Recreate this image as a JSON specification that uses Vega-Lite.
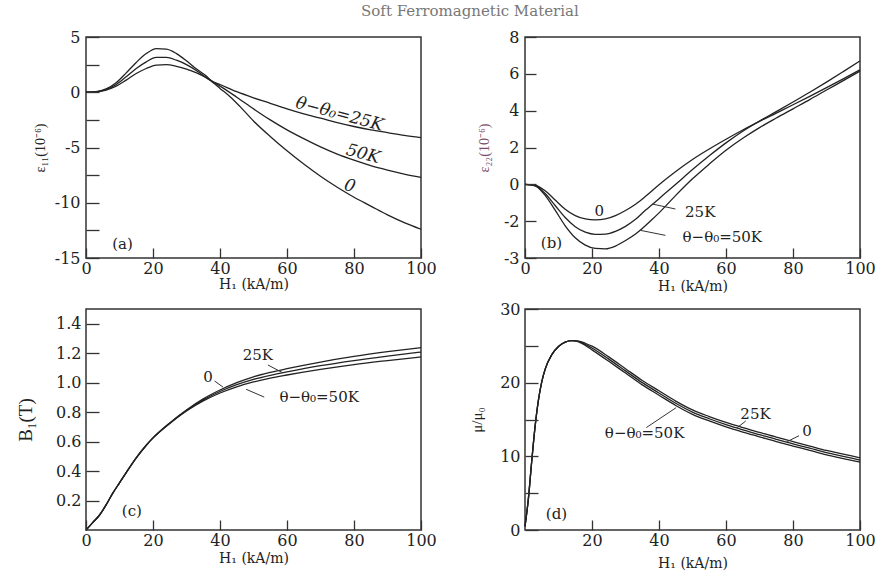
{
  "$schema": "https://vega.github.io/schema/vega-lite/v6.json",
  "background": "white",
  "padding": {"left": 15, "top": 4, "right": 5, "bottom": 5},
  "title": {"text": "Soft Ferromagnetic Material", "font": "DejaVu Serif", "fontSize": 15, "fontWeight": "normal", "color": "#777", "offset": 9, "anchor": "middle", "dx": 24},
  "datasets": {
    "a": [
      {"H":0,"v":0,"s":"0"},{"H":3,"v":0.05,"s":"0"},{"H":6,"v":0.3,"s":"0"},{"H":9,"v":0.85,"s":"0"},{"H":12,"v":1.75,"s":"0"},{"H":15,"v":2.7,"s":"0"},{"H":18,"v":3.5,"s":"0"},{"H":21,"v":3.95,"s":"0"},{"H":24,"v":3.9,"s":"0"},{"H":27,"v":3.5,"s":"0"},{"H":30,"v":2.85,"s":"0"},{"H":33,"v":2.1,"s":"0"},{"H":36,"v":1.45,"s":"0"},{"H":38,"v":0.85,"s":"0"},{"H":40,"v":0.35,"s":"0"},{"H":43,"v":-0.4,"s":"0"},{"H":46,"v":-1.3,"s":"0"},{"H":50,"v":-2.6,"s":"0"},{"H":55,"v":-4.0,"s":"0"},{"H":60,"v":-5.3,"s":"0"},{"H":65,"v":-6.5,"s":"0"},{"H":70,"v":-7.6,"s":"0"},{"H":75,"v":-8.6,"s":"0"},{"H":80,"v":-9.5,"s":"0"},{"H":85,"v":-10.3,"s":"0"},{"H":90,"v":-11.1,"s":"0"},{"H":95,"v":-11.8,"s":"0"},{"H":100,"v":-12.4,"s":"0"},
      {"H":0,"v":0,"s":"50K"},{"H":3,"v":0.04,"s":"50K"},{"H":6,"v":0.25,"s":"50K"},{"H":9,"v":0.7,"s":"50K"},{"H":12,"v":1.4,"s":"50K"},{"H":15,"v":2.15,"s":"50K"},{"H":18,"v":2.75,"s":"50K"},{"H":21,"v":3.15,"s":"50K"},{"H":24,"v":3.15,"s":"50K"},{"H":27,"v":2.9,"s":"50K"},{"H":30,"v":2.5,"s":"50K"},{"H":33,"v":1.95,"s":"50K"},{"H":36,"v":1.3,"s":"50K"},{"H":38,"v":0.9,"s":"50K"},{"H":40,"v":0.55,"s":"50K"},{"H":45,"v":-0.45,"s":"50K"},{"H":50,"v":-1.5,"s":"50K"},{"H":55,"v":-2.5,"s":"50K"},{"H":60,"v":-3.4,"s":"50K"},{"H":65,"v":-4.2,"s":"50K"},{"H":70,"v":-4.95,"s":"50K"},{"H":75,"v":-5.6,"s":"50K"},{"H":80,"v":-6.15,"s":"50K"},{"H":85,"v":-6.65,"s":"50K"},{"H":90,"v":-7.05,"s":"50K"},{"H":95,"v":-7.4,"s":"50K"},{"H":100,"v":-7.7,"s":"50K"},
      {"H":0,"v":0,"s":"25K"},{"H":3,"v":0.03,"s":"25K"},{"H":6,"v":0.2,"s":"25K"},{"H":9,"v":0.55,"s":"25K"},{"H":12,"v":1.1,"s":"25K"},{"H":15,"v":1.7,"s":"25K"},{"H":18,"v":2.15,"s":"25K"},{"H":21,"v":2.45,"s":"25K"},{"H":24,"v":2.5,"s":"25K"},{"H":27,"v":2.35,"s":"25K"},{"H":30,"v":2.1,"s":"25K"},{"H":33,"v":1.75,"s":"25K"},{"H":36,"v":1.3,"s":"25K"},{"H":38,"v":0.95,"s":"25K"},{"H":40,"v":0.7,"s":"25K"},{"H":45,"v":0.05,"s":"25K"},{"H":50,"v":-0.5,"s":"25K"},{"H":55,"v":-1.0,"s":"25K"},{"H":60,"v":-1.5,"s":"25K"},{"H":65,"v":-1.95,"s":"25K"},{"H":70,"v":-2.35,"s":"25K"},{"H":75,"v":-2.75,"s":"25K"},{"H":80,"v":-3.1,"s":"25K"},{"H":85,"v":-3.4,"s":"25K"},{"H":90,"v":-3.65,"s":"25K"},{"H":95,"v":-3.9,"s":"25K"},{"H":100,"v":-4.1,"s":"25K"}
    ],
    "aItal": [
      {"H":75.7,"v":-2.0,"t":"θ−θ₀=25K"},{"H":82.7,"v":-5.6,"t":"50K"},{"H":78.7,"v":-8.5,"t":"0"}
    ],
    "aLab": [{"H":10.9,"v":-13.7,"t":"(a)"}],
    "b": [
      {"H":0,"v":0,"s":"0"},{"H":3,"v":-0.05,"s":"0"},{"H":6,"v":-0.35,"s":"0"},{"H":9,"v":-0.85,"s":"0"},{"H":12,"v":-1.35,"s":"0"},{"H":15,"v":-1.7,"s":"0"},{"H":18,"v":-1.88,"s":"0"},{"H":21,"v":-1.93,"s":"0"},{"H":24,"v":-1.88,"s":"0"},{"H":27,"v":-1.7,"s":"0"},{"H":30,"v":-1.42,"s":"0"},{"H":33,"v":-1.08,"s":"0"},{"H":36,"v":-0.65,"s":"0"},{"H":40,"v":-0.02,"s":"0"},{"H":45,"v":0.7,"s":"0"},{"H":50,"v":1.35,"s":"0"},{"H":55,"v":1.92,"s":"0"},{"H":60,"v":2.45,"s":"0"},{"H":65,"v":2.95,"s":"0"},{"H":70,"v":3.42,"s":"0"},{"H":75,"v":3.87,"s":"0"},{"H":80,"v":4.32,"s":"0"},{"H":85,"v":4.78,"s":"0"},{"H":90,"v":5.25,"s":"0"},{"H":95,"v":5.73,"s":"0"},{"H":100,"v":6.22,"s":"0"},
      {"H":0,"v":0,"s":"25K"},{"H":3,"v":-0.07,"s":"25K"},{"H":6,"v":-0.5,"s":"25K"},{"H":9,"v":-1.15,"s":"25K"},{"H":12,"v":-1.8,"s":"25K"},{"H":15,"v":-2.3,"s":"25K"},{"H":18,"v":-2.6,"s":"25K"},{"H":21,"v":-2.72,"s":"25K"},{"H":24,"v":-2.7,"s":"25K"},{"H":27,"v":-2.55,"s":"25K"},{"H":30,"v":-2.28,"s":"25K"},{"H":33,"v":-1.9,"s":"25K"},{"H":36,"v":-1.4,"s":"25K"},{"H":38,"v":-1.1,"s":"25K"},{"H":40,"v":-0.78,"s":"25K"},{"H":45,"v":0.0,"s":"25K"},{"H":50,"v":0.8,"s":"25K"},{"H":55,"v":1.55,"s":"25K"},{"H":60,"v":2.25,"s":"25K"},{"H":65,"v":2.88,"s":"25K"},{"H":70,"v":3.44,"s":"25K"},{"H":75,"v":3.95,"s":"25K"},{"H":80,"v":4.47,"s":"25K"},{"H":85,"v":5.0,"s":"25K"},{"H":90,"v":5.55,"s":"25K"},{"H":95,"v":6.12,"s":"25K"},{"H":100,"v":6.7,"s":"25K"},
      {"H":0,"v":0,"s":"50K"},{"H":3,"v":-0.08,"s":"50K"},{"H":6,"v":-0.6,"s":"50K"},{"H":9,"v":-1.4,"s":"50K"},{"H":12,"v":-2.25,"s":"50K"},{"H":15,"v":-2.9,"s":"50K"},{"H":18,"v":-3.3,"s":"50K"},{"H":21,"v":-3.48,"s":"50K"},{"H":24,"v":-3.5,"s":"50K"},{"H":27,"v":-3.35,"s":"50K"},{"H":30,"v":-3.05,"s":"50K"},{"H":33,"v":-2.7,"s":"50K"},{"H":35,"v":-2.4,"s":"50K"},{"H":38,"v":-1.9,"s":"50K"},{"H":40,"v":-1.55,"s":"50K"},{"H":45,"v":-0.6,"s":"50K"},{"H":50,"v":0.3,"s":"50K"},{"H":55,"v":1.1,"s":"50K"},{"H":60,"v":1.85,"s":"50K"},{"H":65,"v":2.5,"s":"50K"},{"H":70,"v":3.08,"s":"50K"},{"H":75,"v":3.6,"s":"50K"},{"H":80,"v":4.1,"s":"50K"},{"H":85,"v":4.6,"s":"50K"},{"H":90,"v":5.12,"s":"50K"},{"H":95,"v":5.63,"s":"50K"},{"H":100,"v":6.15,"s":"50K"}
    ],
    "bTxt": [
      {"H":22.2,"v":-1.45,"t":"0"},{"H":52.3,"v":-1.52,"t":"25K"},{"H":58.9,"v":-2.85,"t":"θ−θ₀=50K"},{"H":7.9,"v":-3.2,"t":"(b)"}
    ],
    "bRule": [
      {"H":38,"v":-1.07,"H2":44.9,"v2":-1.34},{"H":34.5,"v":-2.5,"H2":41.9,"v2":-2.77}
    ],
    "c": [
      {"H":0,"v":0,"s":"25K"},{"H":2,"v":0.05,"s":"25K"},{"H":4,"v":0.1,"s":"25K"},{"H":6,"v":0.17,"s":"25K"},{"H":8,"v":0.25,"s":"25K"},{"H":10,"v":0.32,"s":"25K"},{"H":12,"v":0.39,"s":"25K"},{"H":15,"v":0.49,"s":"25K"},{"H":18,"v":0.575,"s":"25K"},{"H":20,"v":0.625,"s":"25K"},{"H":25,"v":0.727,"s":"25K"},{"H":30,"v":0.815,"s":"25K"},{"H":35,"v":0.89,"s":"25K"},{"H":40,"v":0.95,"s":"25K"},{"H":45,"v":1.0,"s":"25K"},{"H":50,"v":1.04,"s":"25K"},{"H":55,"v":1.07,"s":"25K"},{"H":60,"v":1.095,"s":"25K"},{"H":70,"v":1.14,"s":"25K"},{"H":80,"v":1.178,"s":"25K"},{"H":90,"v":1.21,"s":"25K"},{"H":100,"v":1.238,"s":"25K"},
      {"H":0,"v":0,"s":"0"},{"H":2,"v":0.05,"s":"0"},{"H":4,"v":0.1,"s":"0"},{"H":6,"v":0.17,"s":"0"},{"H":8,"v":0.25,"s":"0"},{"H":10,"v":0.32,"s":"0"},{"H":12,"v":0.39,"s":"0"},{"H":15,"v":0.49,"s":"0"},{"H":18,"v":0.575,"s":"0"},{"H":20,"v":0.625,"s":"0"},{"H":25,"v":0.725,"s":"0"},{"H":30,"v":0.812,"s":"0"},{"H":35,"v":0.883,"s":"0"},{"H":40,"v":0.94,"s":"0"},{"H":45,"v":0.986,"s":"0"},{"H":50,"v":1.022,"s":"0"},{"H":55,"v":1.05,"s":"0"},{"H":60,"v":1.073,"s":"0"},{"H":70,"v":1.115,"s":"0"},{"H":80,"v":1.15,"s":"0"},{"H":90,"v":1.18,"s":"0"},{"H":100,"v":1.208,"s":"0"},
      {"H":0,"v":0,"s":"50K"},{"H":2,"v":0.05,"s":"50K"},{"H":4,"v":0.1,"s":"50K"},{"H":6,"v":0.17,"s":"50K"},{"H":8,"v":0.25,"s":"50K"},{"H":10,"v":0.32,"s":"50K"},{"H":12,"v":0.39,"s":"50K"},{"H":15,"v":0.49,"s":"50K"},{"H":18,"v":0.575,"s":"50K"},{"H":20,"v":0.625,"s":"50K"},{"H":25,"v":0.723,"s":"50K"},{"H":30,"v":0.808,"s":"50K"},{"H":35,"v":0.876,"s":"50K"},{"H":40,"v":0.93,"s":"50K"},{"H":45,"v":0.972,"s":"50K"},{"H":50,"v":1.005,"s":"50K"},{"H":55,"v":1.031,"s":"50K"},{"H":60,"v":1.052,"s":"50K"},{"H":70,"v":1.09,"s":"50K"},{"H":80,"v":1.123,"s":"50K"},{"H":90,"v":1.15,"s":"50K"},{"H":100,"v":1.175,"s":"50K"}
    ],
    "cTxt": [
      {"H":51.3,"v":1.19,"t":"25K"},{"H":36.4,"v":1.04,"t":"0"},{"H":69.6,"v":0.905,"t":"θ−θ₀=50K"},{"H":13.7,"v":0.13,"t":"(c)"}
    ],
    "cRule": [
      {"H":54.3,"v":1.12,"H2":58.5,"v2":1.07},{"H":38.4,"v":1.011,"H2":40.9,"v2":0.97},{"H":53.2,"v":0.902,"H2":47.8,"v2":0.955}
    ],
    "d": [
      {"H":0,"v":0.5,"s":"25K"},{"H":1,"v":4.2,"s":"25K"},{"H":2,"v":9.3,"s":"25K"},{"H":3,"v":14,"s":"25K"},{"H":4,"v":17.6,"s":"25K"},{"H":5,"v":20.1,"s":"25K"},{"H":6,"v":21.8,"s":"25K"},{"H":8,"v":23.8,"s":"25K"},{"H":10,"v":24.9,"s":"25K"},{"H":12,"v":25.5,"s":"25K"},{"H":14,"v":25.7,"s":"25K"},{"H":16,"v":25.65,"s":"25K"},{"H":18,"v":25.35,"s":"25K"},{"H":20,"v":24.95,"s":"25K"},{"H":25,"v":23.5,"s":"25K"},{"H":30,"v":21.9,"s":"25K"},{"H":35,"v":20.3,"s":"25K"},{"H":40,"v":18.9,"s":"25K"},{"H":45,"v":17.5,"s":"25K"},{"H":50,"v":16.3,"s":"25K"},{"H":55,"v":15.4,"s":"25K"},{"H":60,"v":14.6,"s":"25K"},{"H":65,"v":13.9,"s":"25K"},{"H":70,"v":13.25,"s":"25K"},{"H":75,"v":12.6,"s":"25K"},{"H":80,"v":12.0,"s":"25K"},{"H":85,"v":11.4,"s":"25K"},{"H":90,"v":10.8,"s":"25K"},{"H":95,"v":10.3,"s":"25K"},{"H":100,"v":9.8,"s":"25K"},
      {"H":0,"v":0.5,"s":"0"},{"H":1,"v":4.2,"s":"0"},{"H":2,"v":9.3,"s":"0"},{"H":3,"v":14,"s":"0"},{"H":4,"v":17.6,"s":"0"},{"H":5,"v":20.1,"s":"0"},{"H":6,"v":21.8,"s":"0"},{"H":8,"v":23.8,"s":"0"},{"H":10,"v":24.9,"s":"0"},{"H":12,"v":25.5,"s":"0"},{"H":14,"v":25.7,"s":"0"},{"H":16,"v":25.6,"s":"0"},{"H":18,"v":25.2,"s":"0"},{"H":20,"v":24.7,"s":"0"},{"H":25,"v":23.2,"s":"0"},{"H":30,"v":21.6,"s":"0"},{"H":35,"v":20.0,"s":"0"},{"H":40,"v":18.6,"s":"0"},{"H":45,"v":17.2,"s":"0"},{"H":50,"v":16.0,"s":"0"},{"H":55,"v":15.1,"s":"0"},{"H":60,"v":14.3,"s":"0"},{"H":65,"v":13.6,"s":"0"},{"H":70,"v":12.95,"s":"0"},{"H":75,"v":12.3,"s":"0"},{"H":80,"v":11.7,"s":"0"},{"H":85,"v":11.1,"s":"0"},{"H":90,"v":10.5,"s":"0"},{"H":95,"v":10.0,"s":"0"},{"H":100,"v":9.5,"s":"0"},
      {"H":0,"v":0.5,"s":"50K"},{"H":1,"v":4.2,"s":"50K"},{"H":2,"v":9.3,"s":"50K"},{"H":3,"v":14,"s":"50K"},{"H":4,"v":17.6,"s":"50K"},{"H":5,"v":20.1,"s":"50K"},{"H":6,"v":21.8,"s":"50K"},{"H":8,"v":23.8,"s":"50K"},{"H":10,"v":24.9,"s":"50K"},{"H":12,"v":25.5,"s":"50K"},{"H":14,"v":25.7,"s":"50K"},{"H":16,"v":25.55,"s":"50K"},{"H":18,"v":25.05,"s":"50K"},{"H":20,"v":24.45,"s":"50K"},{"H":25,"v":22.9,"s":"50K"},{"H":30,"v":21.3,"s":"50K"},{"H":35,"v":19.7,"s":"50K"},{"H":40,"v":18.3,"s":"50K"},{"H":45,"v":16.9,"s":"50K"},{"H":50,"v":15.7,"s":"50K"},{"H":55,"v":14.8,"s":"50K"},{"H":60,"v":14.0,"s":"50K"},{"H":65,"v":13.3,"s":"50K"},{"H":70,"v":12.65,"s":"50K"},{"H":75,"v":12.0,"s":"50K"},{"H":80,"v":11.4,"s":"50K"},{"H":85,"v":10.8,"s":"50K"},{"H":90,"v":10.2,"s":"50K"},{"H":95,"v":9.7,"s":"50K"},{"H":100,"v":9.2,"s":"50K"}
    ],
    "dTxt": [
      {"H":35.7,"v":13.2,"t":"θ−θ₀=50K"},{"H":68.8,"v":15.7,"t":"25K"},{"H":84.2,"v":13.45,"t":"0"},{"H":9.4,"v":2.2,"t":"(d)"}
    ],
    "dRule": [
      {"H":36.2,"v":13.9,"H2":45.1,"v2":16.6},{"H":65.9,"v":14.8,"H2":63.4,"v2":13.9},{"H":81.8,"v":12.8,"H2":78.3,"v2":12.0}
    ]
  },
  "columns": 2,
  "spacing": {"row": 51, "column": 104},
  "bounds": "flush",
  "concat": [
    {
      "width": 335, "height": 221,
      "layer": [
        {
          "data": {"name": "a"},
          "mark": {"type": "line", "interpolate": "monotone", "color": "#222", "strokeWidth": 1.3},
          "encoding": {
            "x": {"field": "H", "type": "quantitative", "title": "H₁ (kA/m)", "scale": {"domain": [0, 100], "nice": false},
                  "axis": {"values": [0, 20, 40, 60, 80, 100], "tickCount": 50, "format": "d", "offset": -10, "ticks": true, "tickSize": 10, "zindex": 2, "labelPadding": 2, "titlePadding": 1}},
            "y": {"field": "v", "type": "quantitative", "title": "ε₁₁(10⁻⁶)", "scale": {"domain": [-15, 5], "nice": false, "zero": false},
                  "axis": {"values": [-15, -12.5, -10, -7.5, -5, -2.5, 0, 2.5, 5], "tickCount": 50, "format": "~g", "labelExpr": "datum.value % 5 === 0 ? replace(datum.label, '\u2212', '-') : ''", "offset": -13, "ticks": true, "tickSize": 13, "zindex": 2, "labelPadding": 6, "titlePadding": 7, "titleFontSize": 14}},
            "detail": {"field": "s", "type": "nominal"}
          }
        },
        {
          "data": {"name": "aItal"},
          "mark": {"type": "text", "font": "DejaVu Serif", "fontStyle": "italic", "fontSize": 17, "angle": 15, "color": "#222"},
          "encoding": {
            "x": {"field": "H", "type": "quantitative", "title": "H₁ (kA/m)"},
            "y": {"field": "v", "type": "quantitative", "title": "ε₁₁(10⁻⁶)"},
            "text": {"field": "t"}
          }
        },
        {
          "data": {"name": "aLab"},
          "mark": {"type": "text", "font": "DejaVu Serif", "fontSize": 15, "color": "#222"},
          "encoding": {
            "x": {"field": "H", "type": "quantitative", "title": "H₁ (kA/m)"},
            "y": {"field": "v", "type": "quantitative", "title": "ε₁₁(10⁻⁶)"},
            "text": {"field": "t"}
          }
        }
      ]
    },
    {
      "width": 335, "height": 221,
      "layer": [
        {
          "data": {"name": "b"},
          "mark": {"type": "line", "interpolate": "monotone", "color": "#222", "strokeWidth": 1.3},
          "encoding": {
            "x": {"field": "H", "type": "quantitative", "title": "H₁ (kA/m)", "scale": {"domain": [0, 100], "nice": false},
                  "axis": {"values": [0, 20, 40, 60, 80, 100], "tickCount": 50, "format": "d", "offset": -10, "ticks": true, "tickSize": 10, "zindex": 2, "labelPadding": 2, "titlePadding": 3}},
            "y": {"field": "v", "type": "quantitative", "title": "ε₂₂(10⁻⁶)", "scale": {"domain": [-4, 8], "nice": false, "zero": false},
                  "axis": {"values": [-4, -2, 0, 2, 4, 6, 8], "tickCount": 50, "format": "~g", "labelExpr": "datum.value === -4 ? '-3' : replace(datum.label, '\u2212', '-')", "offset": -11, "ticks": true, "tickSize": 11, "zindex": 2, "labelPadding": 6, "titlePadding": 12, "titleFontSize": 14, "titleColor": "#7a5068"}},
            "detail": {"field": "s", "type": "nominal"}
          }
        },
        {
          "data": {"name": "bRule"},
          "mark": {"type": "rule", "color": "#333", "strokeWidth": 1},
          "encoding": {
            "x": {"field": "H", "type": "quantitative", "title": "H₁ (kA/m)"},
            "y": {"field": "v", "type": "quantitative", "title": "ε₂₂(10⁻⁶)"},
            "x2": {"field": "H2"},
            "y2": {"field": "v2"}
          }
        },
        {
          "data": {"name": "bTxt"},
          "mark": {"type": "text", "font": "DejaVu Serif", "fontSize": 15, "color": "#222"},
          "encoding": {
            "x": {"field": "H", "type": "quantitative", "title": "H₁ (kA/m)"},
            "y": {"field": "v", "type": "quantitative", "title": "ε₂₂(10⁻⁶)"},
            "text": {"field": "t"}
          }
        }
      ]
    },
    {
      "width": 335, "height": 221,
      "layer": [
        {
          "data": {"name": "c"},
          "mark": {"type": "line", "interpolate": "monotone", "color": "#222", "strokeWidth": 1.3},
          "encoding": {
            "x": {"field": "H", "type": "quantitative", "title": "H₁ (kA/m)", "scale": {"domain": [0, 100], "nice": false},
                  "axis": {"values": [0, 20, 40, 60, 80, 100], "tickCount": 50, "format": "d", "offset": -10, "ticks": true, "tickSize": 10, "zindex": 2, "labelPadding": 2, "titlePadding": 3}},
            "y": {"field": "v", "type": "quantitative", "title": "B₁(T)", "scale": {"domain": [0, 1.5], "nice": false},
                  "axis": {"values": [0.2, 0.4, 0.6, 0.8, 1.0, 1.2, 1.4], "tickCount": 50, "format": ".1f", "offset": -13, "ticks": true, "tickSize": 13, "zindex": 2, "labelPadding": 5, "titlePadding": 20, "titleFontSize": 19}},
            "detail": {"field": "s", "type": "nominal"}
          }
        },
        {
          "data": {"name": "cRule"},
          "mark": {"type": "rule", "color": "#333", "strokeWidth": 1},
          "encoding": {
            "x": {"field": "H", "type": "quantitative", "title": "H₁ (kA/m)"},
            "y": {"field": "v", "type": "quantitative", "title": "B₁(T)"},
            "x2": {"field": "H2"},
            "y2": {"field": "v2"}
          }
        },
        {
          "data": {"name": "cTxt"},
          "mark": {"type": "text", "font": "DejaVu Serif", "fontSize": 15, "color": "#222"},
          "encoding": {
            "x": {"field": "H", "type": "quantitative", "title": "H₁ (kA/m)"},
            "y": {"field": "v", "type": "quantitative", "title": "B₁(T)"},
            "text": {"field": "t"}
          }
        }
      ]
    },
    {
      "width": 335, "height": 221,
      "layer": [
        {
          "data": {"name": "d"},
          "mark": {"type": "line", "interpolate": "monotone", "color": "#222", "strokeWidth": 1.3},
          "encoding": {
            "x": {"field": "H", "type": "quantitative", "title": "H₁ (kA/m)", "scale": {"domain": [0, 100], "nice": false},
                  "axis": {"values": [20, 40, 60, 80, 100], "tickCount": 50, "format": "d", "offset": -10, "ticks": true, "tickSize": 10, "zindex": 2, "labelPadding": 2, "titlePadding": 8}},
            "y": {"field": "v", "type": "quantitative", "title": "μ/μ₀", "scale": {"domain": [0, 30], "nice": false},
                  "axis": {"values": [0, 5, 10, 15, 20, 25, 30], "tickCount": 50, "format": "~g", "labelExpr": "datum.value % 10 === 0 ? datum.label : ''", "offset": -13, "ticks": true, "tickSize": 13, "zindex": 2, "labelPadding": 5, "titlePadding": 15, "titleFontSize": 15}},
            "detail": {"field": "s", "type": "nominal"}
          }
        },
        {
          "data": {"name": "dRule"},
          "mark": {"type": "rule", "color": "#333", "strokeWidth": 1},
          "encoding": {
            "x": {"field": "H", "type": "quantitative", "title": "H₁ (kA/m)"},
            "y": {"field": "v", "type": "quantitative", "title": "μ/μ₀"},
            "x2": {"field": "H2"},
            "y2": {"field": "v2"}
          }
        },
        {
          "data": {"name": "dTxt"},
          "mark": {"type": "text", "font": "DejaVu Serif", "fontSize": 15, "color": "#222"},
          "encoding": {
            "x": {"field": "H", "type": "quantitative", "title": "H₁ (kA/m)"},
            "y": {"field": "v", "type": "quantitative", "title": "μ/μ₀"},
            "text": {"field": "t"}
          }
        }
      ]
    }
  ],
  "config": {
    "view": {"stroke": "#333", "strokeWidth": 1.5},
    "axis": {
      "domain": false, "grid": false, "ticks": true, "tickColor": "#333", "tickWidth": 1.3, "tickOpacity": 1,
      "labelFont": "DejaVu Serif", "labelFontSize": 16, "labelColor": "#222",
      "labelFlush": false, "labelOverlap": false,
      "titleFont": "Liberation Serif", "titleFontWeight": "normal", "titleFontSize": 14, "titleColor": "#222"
    },
    "axisX": {"titleFont": "DejaVu Serif", "titleFontSize": 14}
  }
}
